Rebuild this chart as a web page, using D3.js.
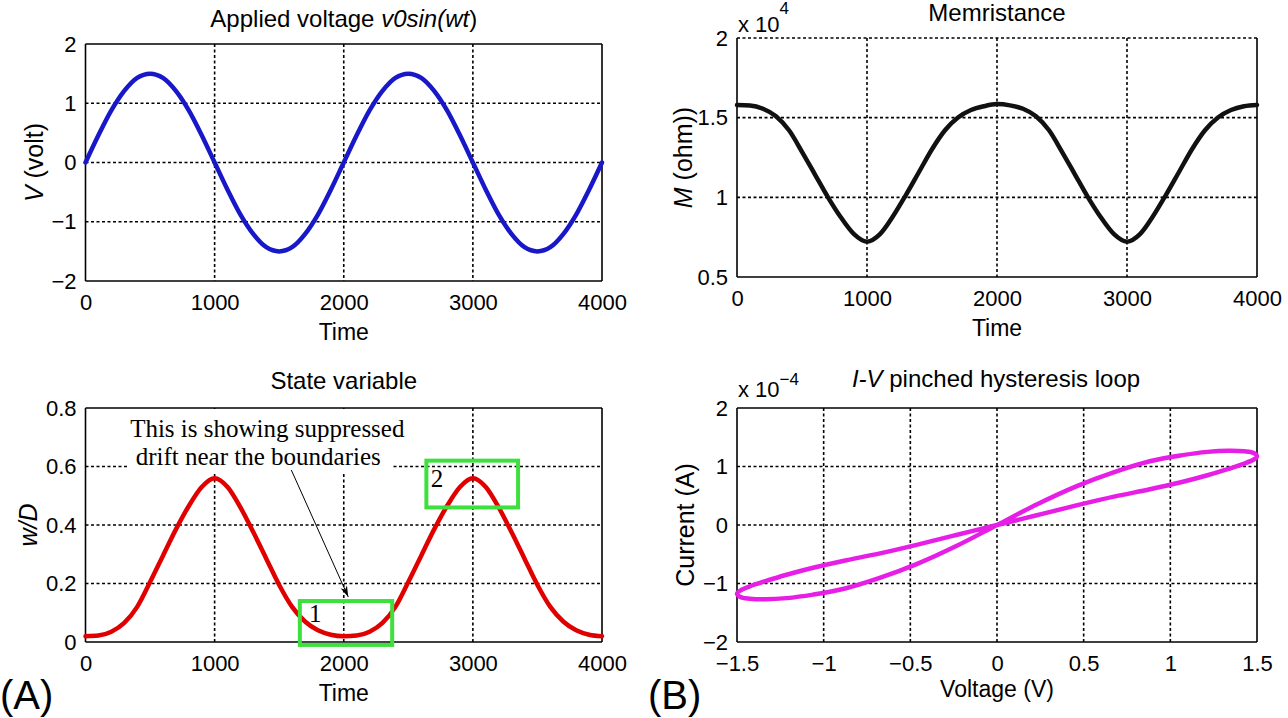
<!DOCTYPE html>
<html>
<head>
<meta charset="utf-8">
<script src="https://cdn.jsdelivr.net/npm/d3@7"></script>
<style>
  body { margin: 0; background: #fff; }
  svg text { font-family: "Liberation Sans", Arial, sans-serif; fill: #000; }
</style>
</head>
<body>
<svg id="fig" width="1288" height="718"></svg>
<script>
// ---- data ----
const timeS = [0, 100, 200, 300, 400, 500, 600, 700, 800, 900, 1000, 1100, 1200, 1300, 1400, 1500,
  1600, 1700, 1800, 1900, 2000, 2100, 2200, 2300, 2400, 2500, 2600, 2700, 2800, 2900, 3000,
  3100, 3200, 3300, 3400, 3500, 3600, 3700, 3800, 3900, 4000];

const voltage = [0, 0.46, 0.88, 1.21, 1.43, 1.50, 1.43, 1.21, 0.88, 0.46, 0, -0.46, -0.88, -1.21, -1.43, -1.50,
  -1.43, -1.21, -0.88, -0.46, 0, 0.46, 0.88, 1.21, 1.43, 1.50, 1.43, 1.21, 0.88, 0.46, 0,
  -0.46, -0.88, -1.21, -1.43, -1.50, -1.43, -1.21, -0.88, -0.46, 0];

// memristance, in units of 1e4 ohm
const memristance = [1.580, 1.577, 1.556, 1.509, 1.421, 1.286, 1.143, 1.000, 0.873, 0.769, 0.722, 0.769, 0.881,
  1.016, 1.159, 1.302, 1.421, 1.501, 1.548, 1.572, 1.585, 1.577, 1.556, 1.509, 1.421, 1.286, 1.143, 1.000,
  0.873, 0.769, 0.722, 0.769, 0.881, 1.016, 1.159, 1.302, 1.421, 1.501, 1.548, 1.572, 1.580];

// state variable w/D
const stateW = [0.020, 0.022, 0.035, 0.065, 0.120, 0.205, 0.295, 0.385, 0.465, 0.530, 0.560, 0.530, 0.460,
  0.375, 0.285, 0.195, 0.120, 0.070, 0.040, 0.025, 0.020, 0.022, 0.035, 0.065, 0.120, 0.205, 0.295, 0.385,
  0.465, 0.530, 0.560, 0.530, 0.460, 0.375, 0.285, 0.195, 0.120, 0.070, 0.040, 0.025, 0.020];

// one full I-V cycle; current in units of 1e-4 A
const loopV = [0, 0.235, 0.464, 0.681, 0.882, 1.061, 1.214, 1.336, 1.427, 1.481, 1.5, 1.481, 1.427, 1.336, 1.214,
  1.061, 0.882, 0.681, 0.464, 0.235, 0, -0.235, -0.464, -0.681, -0.882, -1.061, -1.214, -1.336, -1.427, -1.481,
  -1.5, -1.481, -1.427, -1.336, -1.214, -1.061, -0.882, -0.681, -0.464, -0.235, 0];
const loopI = [0, 0.17, 0.34, 0.49, 0.61, 0.73, 0.85, 0.96, 1.05, 1.12, 1.17, 1.23, 1.26, 1.27, 1.25,
  1.19, 1.09, 0.91, 0.67, 0.36, 0, -0.36, -0.67, -0.91, -1.09, -1.19, -1.25, -1.27, -1.26, -1.23,
  -1.17, -1.12, -1.05, -0.96, -0.85, -0.73, -0.61, -0.49, -0.34, -0.17, 0];

const timeTicks = [0, 1000, 2000, 3000, 4000];
const vTicks = [-2, -1, 0, 1, 2];
const mTicks = [0.5, 1, 1.5, 2];
const wTicks = [0, 0.2, 0.4, 0.6, 0.8];
const ivXTicks = [-1.5, -1, -0.5, 0, 0.5, 1, 1.5];
const ivYTicks = [-2, -1, 0, 1, 2];

// highlighted regions on the state-variable plot
const regions = [
  { label: '1', x0: 1660, x1: 2375, y0: -0.01, y1: 0.14, tx: 1780, ty: 0.068 },
  { label: '2', x0: 2640, x1: 3350, y0: 0.46, y1: 0.62, tx: 2723, ty: 0.53 }
];
const noteLines = ['This is showing suppressed', 'drift near the boundaries'];

// ---- drawing ----
const svg = d3.select('#fig');
const fmt = (d) => String(d).replace('-', '\u2212');

function makePanel(box, xDom, yDom, xTicks, yTicks, opt = {}) {
  const g = svg.append('g');
  const x = d3.scaleLinear().domain(xDom).range([box.left, box.right]);
  const y = d3.scaleLinear().domain(yDom).range([box.bottom, box.top]);

  const dash = '3,2.5';
  g.selectAll('.gx').data(xTicks.filter(v => v > xDom[0] && v < xDom[1])).join('line')
    .attr('x1', d => x(d)).attr('x2', d => x(d))
    .attr('y1', box.top).attr('y2', box.bottom)
    .attr('stroke', '#000').attr('stroke-width', 1.6).attr('stroke-dasharray', dash);
  g.selectAll('.gy').data(yTicks.filter(v => v > yDom[0] && (v < yDom[1] || opt.dottedTop))).join('line')
    .attr('x1', box.left).attr('x2', box.right)
    .attr('y1', d => y(d)).attr('y2', d => y(d))
    .attr('stroke', '#000').attr('stroke-width', 1.6).attr('stroke-dasharray', dash);

  const xa = g.append('g').attr('transform', `translate(0,${box.bottom})`)
    .call(d3.axisBottom(x).tickValues(xTicks).tickSize(0).tickPadding(13).tickFormat(fmt));
  const ya = g.append('g').attr('transform', `translate(${box.left},0)`)
    .call(d3.axisLeft(y).tickValues(yTicks).tickSize(0).tickPadding(9).tickFormat(fmt));
  [xa, ya].forEach(a => {
    a.select('.domain').remove();
    a.attr('font-size', 22).attr('font-family', '"Liberation Sans", Arial, sans-serif');
  });

  // frame
  const fr = g.append('g').attr('stroke', '#000').attr('stroke-width', 1.6);
  fr.append('line').attr('x1', box.left).attr('x2', box.left).attr('y1', box.top).attr('y2', box.bottom);
  fr.append('line').attr('x1', box.right).attr('x2', box.right).attr('y1', box.top).attr('y2', box.bottom);
  fr.append('line').attr('x1', box.left).attr('x2', box.right).attr('y1', box.bottom).attr('y2', box.bottom);
  if (!opt.dottedTop)
    fr.append('line').attr('x1', box.left).attr('x2', box.right).attr('y1', box.top).attr('y2', box.top);

  return { g, x, y };
}

function richText(parent, x, y, parts, size, anchor = 'middle', rotate = false) {
  const t = parent.append('text')
    .attr('font-size', size).attr('text-anchor', anchor)
    .attr('transform', rotate ? `translate(${x},${y}) rotate(-90)` : `translate(${x},${y})`);
  parts.forEach(p => {
    t.append('tspan').text(p[0]).attr('font-style', p[1] ? 'italic' : 'normal');
  });
  return t;
}

function curve(p, xs, ys, color, curveType) {
  const pts = xs.map((v, i) => [v, ys[i]]);
  p.g.append('path')
    .attr('d', d3.line().x(d => p.x(d[0])).y(d => p.y(d[1])).curve(curveType)(pts))
    .attr('fill', 'none').attr('stroke', color).attr('stroke-width', 4.5)
    .attr('stroke-linejoin', 'round').attr('stroke-linecap', 'round');
}

// Panel 1: applied voltage
const b1 = { left: 85.5, right: 602, top: 44, bottom: 281 };
const p1 = makePanel(b1, [0, 4000], [-2, 2], timeTicks, vTicks);
curve(p1, timeS, voltage, '#1818c8', d3.curveMonotoneX);
richText(svg, (b1.left + b1.right) / 2, 27, [['Applied voltage ', false], ['v0sin(wt', true], [')', false]], 24);
richText(svg, (b1.left + b1.right) / 2, b1.bottom + 59, [['Time', false]], 23);
richText(svg, 43, (b1.top + b1.bottom) / 2, [['V', true], [' (volt)', false]], 25, 'middle', true);

// Panel 2: memristance
const b2 = { left: 737, right: 1257, top: 38, bottom: 277 };
const p2 = makePanel(b2, [0, 4000], [0.5, 2], timeTicks, mTicks, { dottedTop: true });
curve(p2, timeS, memristance, '#111', d3.curveMonotoneX);
richText(svg, (b2.left + b2.right) / 2, 21, [['Memristance', false]], 24);
richText(svg, (b2.left + b2.right) / 2, b2.bottom + 59, [['Time', false]], 23);
richText(svg, 692, (b2.top + b2.bottom) / 2, [['M', true], [' (ohm))', false]], 25, 'middle', true);
const e2 = svg.append('text').attr('x', 738).attr('y', 32).attr('font-size', 22);
e2.append('tspan').text('x 10');
e2.append('tspan').text('4').attr('font-size', 17).attr('dy', -18);

// Panel 3: state variable
const b3 = { left: 85.5, right: 602, top: 408, bottom: 642 };
const p3 = makePanel(b3, [0, 4000], [0, 0.8], timeTicks, wTicks);
// white backing behind the note
p3.g.append('rect')
  .attr('x', p3.x(330)).attr('width', p3.x(2380) - p3.x(330))
  .attr('y', b3.top + 1).attr('height', p3.y(0.58) - b3.top - 1)
  .attr('fill', '#fff');
curve(p3, timeS, stateW, '#e00000', d3.curveMonotoneX);
p3.g.selectAll('.reg').data(regions).join('rect')
  .attr('x', d => p3.x(d.x0)).attr('width', d => p3.x(d.x1) - p3.x(d.x0))
  .attr('y', d => p3.y(d.y1)).attr('height', d => p3.y(d.y0) - p3.y(d.y1))
  .attr('fill', 'none').attr('stroke', '#3ee03e').attr('stroke-width', 4);
p3.g.selectAll('.regl').data(regions).join('text')
  .attr('x', d => p3.x(d.tx)).attr('y', d => p3.y(d.ty))
  .attr('text-anchor', 'middle').attr('font-size', 25)
  .style('font-family', '"Liberation Serif", "Times New Roman", serif')
  .text(d => d.label);
p3.g.selectAll('.note').data(noteLines).join('text')
  .attr('x', (d, i) => p3.x(i === 0 ? 1408 : 1338))
  .attr('y', (d, i) => p3.y(i === 0 ? 0.701 : 0.605))
  .attr('text-anchor', 'middle').attr('font-size', 25)
  .style('font-family', '"Liberation Serif", "Times New Roman", serif')
  .text(d => d);
svg.append('defs').append('marker')
  .attr('id', 'arr').attr('viewBox', '-12 -5 14 10').attr('refX', 0).attr('refY', 0)
  .attr('markerWidth', 14).attr('markerHeight', 10).attr('markerUnits', 'userSpaceOnUse')
  .attr('orient', 'auto')
  .append('path').attr('d', 'M-11,-3.5 L0,0 L-11,3.5 L-8,0 Z').attr('fill', '#000');
p3.g.append('line')
  .attr('x1', p3.x(1594)).attr('y1', p3.y(0.588))
  .attr('x2', p3.x(2035)).attr('y2', p3.y(0.154))
  .attr('stroke', '#000').attr('stroke-width', 1)
  .attr('marker-end', 'url(#arr)');
richText(svg, (b3.left + b3.right) / 2, 389, [['State variable', false]], 24);
richText(svg, (b3.left + b3.right) / 2, b3.bottom + 59, [['Time', false]], 23);
richText(svg, 37, (b3.top + b3.bottom) / 2, [['w/D', true]], 25, 'middle', true);
richText(svg, 0, 709, [['(A)', false]], 40, 'start');

// Panel 4: I-V loop
const b4 = { left: 737, right: 1257, top: 408, bottom: 642 };
const p4 = makePanel(b4, [-1.5, 1.5], [-2, 2], ivXTicks, ivYTicks);
curve(p4, loopV, loopI, '#e61ee6', d3.curveCatmullRom);
richText(svg, 996, 387, [['I-V', true], [' pinched hysteresis loop', false]], 24);
richText(svg, (b4.left + b4.right) / 2, b4.bottom + 55, [['Voltage (V)', false]], 23);
richText(svg, 694, (b4.top + b4.bottom) / 2, [['Current (A)', false]], 25, 'middle', true);
richText(svg, 648, 709, [['(B)', false]], 40, 'start');
const e4 = svg.append('text').attr('x', 738).attr('y', 397).attr('font-size', 22);
e4.append('tspan').text('x 10');
e4.append('tspan').text('\u22124').attr('font-size', 17).attr('dy', -12);
</script>
</body>
</html>
